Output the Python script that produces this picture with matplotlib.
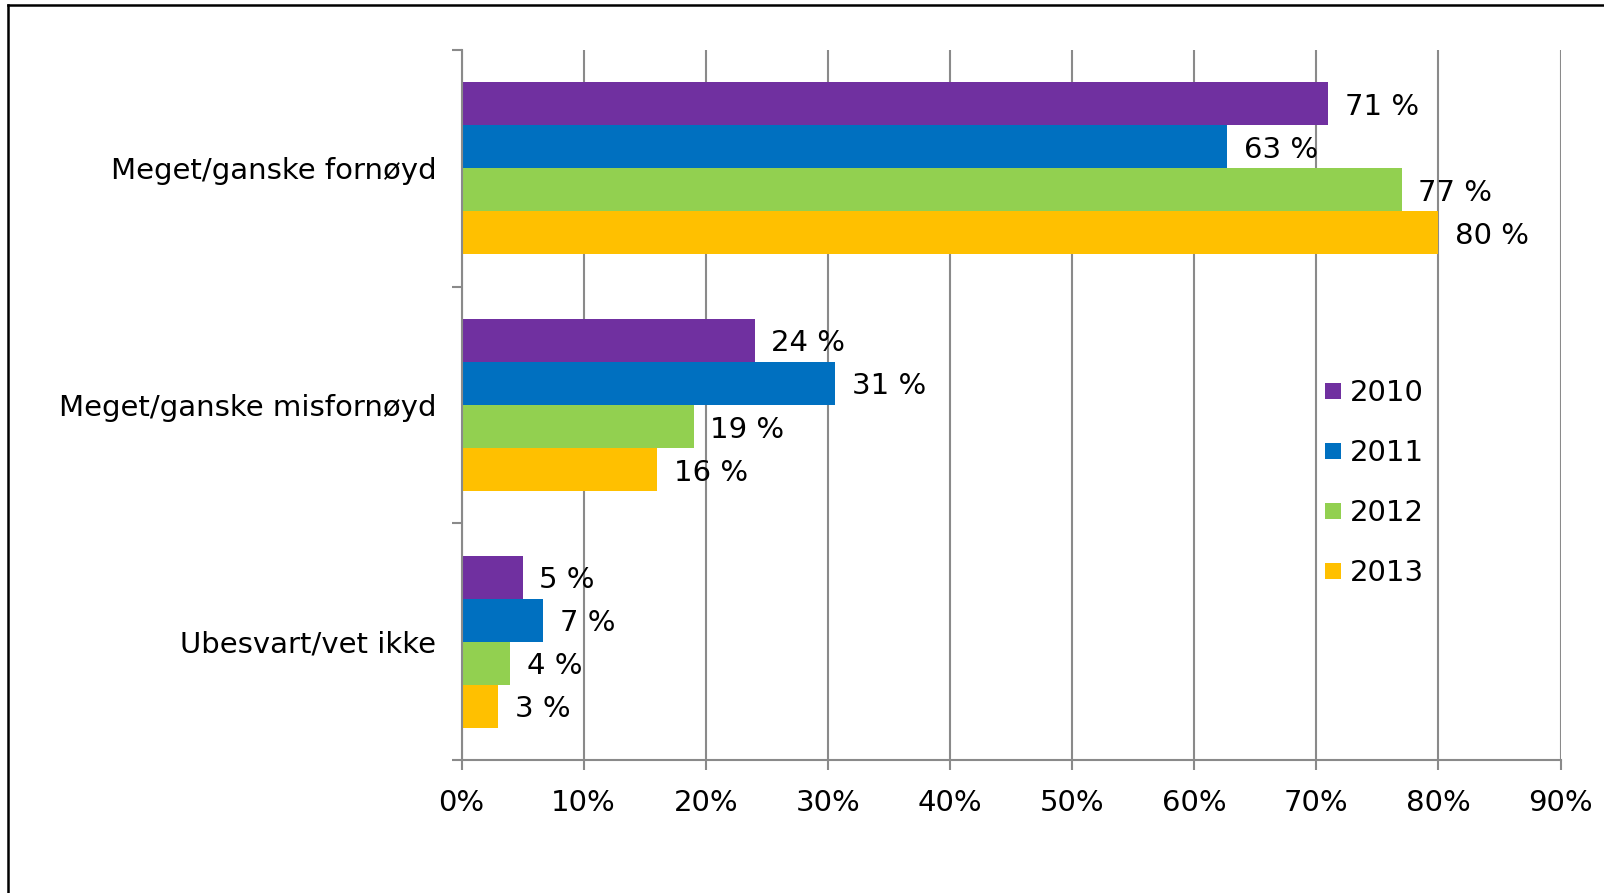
import matplotlib
matplotlib.use("Agg")
import matplotlib.pyplot as plt
from matplotlib.lines import Line2D
import numpy as np

categories = ["Meget/ganske fornøyd", "Meget/ganske misfornøyd", "Ubesvart/vet ikke"]
series_names = ["2010", "2011", "2012", "2013"]
values_2010 = [71.0, 24.0, 5.0]
values_2011 = [62.7, 30.6, 6.7]
values_2012 = [77.0, 19.0, 4.0]
values_2013 = [80.0, 16.0, 3.0]
labels_2010 = ["71 %", "24 %", "5 %"]
labels_2011 = ["63 %", "31 %", "7 %"]
labels_2012 = ["77 %", "19 %", "4 %"]
labels_2013 = ["80 %", "16 %", "3 %"]
xticks = [0, 10, 20, 30, 40, 50, 60, 70, 80, 90]
xtick_labels = ["0%", "10%", "20%", "30%", "40%", "50%", "60%", "70%", "80%", "90%"]

colors = ["#7030A0", "#0070C0", "#92D050", "#FFC000"]
all_values = [values_2010, values_2011, values_2012, values_2013]
all_labels = [labels_2010, labels_2011, labels_2012, labels_2013]

plt.rcParams["font.family"] = ["DejaVu Sans"]
FS = 21
grid_col = "#8A8A8A"

fig = plt.figure(figsize=(16.04, 8.93), dpi=100)
ax = fig.add_axes([461.5/1604, 1-760/893, (1560.5-461.5)/1604, (760-50)/893])

n_cat = len(categories)
h = 0.182
y_centers = np.arange(n_cat)
for j, (vals, labs, col, name) in enumerate(zip(all_values, all_labels, colors, series_names)):
    ys = y_centers + (j - 1.5) * h
    bars = ax.barh(ys, vals, height=h, color=col, label=name, zorder=3, linewidth=0)
    anns = ax.bar_label(bars, labels=labs, padding=12, fontsize=FS, color="black", zorder=4)
    for a in anns:
        a.set_y(a.get_position()[1])
        a.set_va("center_baseline")

ax.set_xlim(0, 90)
ax.set_ylim(n_cat - 0.5, -0.5)
ax.set_xticks(xticks)
ax.set_xticklabels(xtick_labels, fontsize=FS)
ax.set_yticks(y_centers)
ax.set_yticklabels(categories, fontsize=FS)
ax.tick_params(axis="y", which="major", length=0, pad=18)
ax.set_yticks(np.arange(n_cat + 1) - 0.5, minor=True)
ax.tick_params(axis="y", which="minor", length=7, width=1.5, color=grid_col, direction="out")
ax.tick_params(axis="x", length=7, width=1.5, color=grid_col, direction="out", pad=14)

ax.grid(axis="x", color=grid_col, linewidth=1.5, zorder=0)
for s in ["top", "right"]:
    ax.spines[s].set_visible(False)
for s in ["left", "bottom"]:
    ax.spines[s].set_color(grid_col)
    ax.spines[s].set_linewidth(1.5)
    ax.spines[s].set_zorder(5)

handles = [Line2D([], [], marker="s", linestyle="none", markersize=11.5,
                  markerfacecolor=c, markeredgewidth=0) for c in colors]
fig.legend(handles, series_names, loc="upper left",
           bbox_to_anchor=(1324/1604, 1-379/893), frameon=False, fontsize=FS,
           handlelength=0.6, handletextpad=0.3, labelspacing=1.1, borderpad=0, borderaxespad=0)

# outer frame (cut off at right/bottom)
fig.add_artist(Line2D([8/1604, 8/1604], [0, 1-5/893], transform=fig.transFigure,
                      color="black", linewidth=1.8))
fig.add_artist(Line2D([8/1604, 1], [1-5/893, 1-5/893], transform=fig.transFigure,
                      color="black", linewidth=1.8))

fig.savefig("out.png", dpi=100)
